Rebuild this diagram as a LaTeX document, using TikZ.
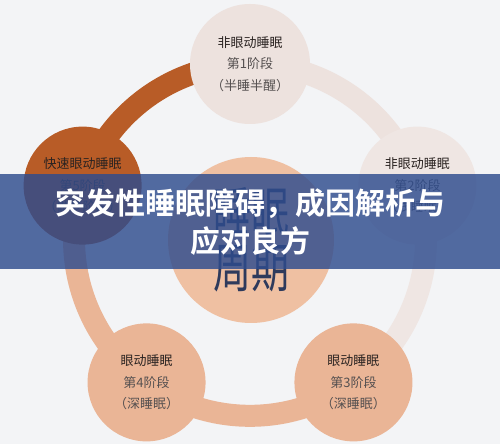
\documentclass[tikz,border=0pt]{standalone}
\usepackage{fontspec}
\usepackage{graphicx}
\usetikzlibrary{calc,backgrounds}
\newfontfamily\cjk{Noto Sans CJK SC}[BoldFont={Noto Sans CJK SC Bold}]
\definecolor{mybg}{HTML}{F3F4F6}
\definecolor{mypale}{HTML}{EDE2DE}
\definecolor{mypaler}{HTML}{EFE6E3}
\definecolor{myorange}{HTML}{B85C27}
\definecolor{mypeach}{HTML}{EAB596}
\definecolor{mycore}{HTML}{EFC0A2}
\definecolor{myink}{HTML}{2A2321}
\definecolor{mygray}{HTML}{555050}
\definecolor{mynavy}{HTML}{2E3A5C}
\definecolor{mybanner}{HTML}{2E4C8E}
\tikzstyle{stage}=[circle, minimum size=118, inner sep=0pt, align=center, text=mygray,
    font=\cjk\fontsize{13}{21.5}\selectfont]
\tikzstyle{band}=[line width=22, bend right=36, looseness=0.94]

\begin{document}
\begin{tikzpicture}[x=1pt, y=1pt]

\useasboundingbox (0,0) rectangle (500,444);
\coordinate (ring) at (250,204);

\node[stage, fill=mypale, minimum size=120] (stage1) at ($(ring)+(90:176)$)
    {\textcolor{myink}{非眼动睡眠}\\第1阶段\\（半睡半醒）};
\node[stage, fill=mypaler] (stage2) at ($(ring)+(18:176)$)
    {\textcolor{myink}{非眼动睡眠}\\第2阶段\\（浅睡眠）};
\node[stage, fill=mypeach] (stage3) at ($(ring)+(-54:176)$)
    {\textcolor{myink}{眼动睡眠}\\第3阶段\\（深睡眠）};
\node[stage, fill=mypeach] (stage4) at ($(ring)+(-126:176)$)
    {\textcolor{myink}{眼动睡眠}\\第4阶段\\（深睡眠）};
\node[stage, fill=myorange, text=myink!80!myorange] (stage5) at ($(ring)+(162:176)$)
    {\textcolor{myink}{快速眼动睡眠}\\第5阶段\\（做梦阶段）};

\node[circle, fill=mycore, minimum size=166, inner sep=0pt, align=center, text=mynavy,
    font=\cjk\fontsize{38}{56}\selectfont] (cycle) at (251,204)
    {\scalebox{1}[1.4]{睡眠}\\\scalebox{1}[1.4]{周期}};

\begin{scope}[on background layer]
    \fill[mybg] (0,0) rectangle (500,444);
    \draw[band, myorange] (stage1.center) to (stage5.center);
    \draw[band, mypeach] (stage5.center) to (stage4.center);
    \draw[band, mypeach] (stage4.center) to (stage3.center);
    \draw[band, mypaler] (stage3.center) to (stage2.center);
    \draw[band, mypale] (stage2.center) to (stage1.center);
\end{scope}

% title banner
\fill[mybanner, fill opacity=0.82] (0,175) rectangle (500,270);
\node[align=center, text=white, font=\cjk\bfseries\fontsize{30}{38}\selectfont] (title) at (250,222)
    {突发性睡眠障碍，成因解析与\\应对良方};

\end{tikzpicture}
\end{document}
